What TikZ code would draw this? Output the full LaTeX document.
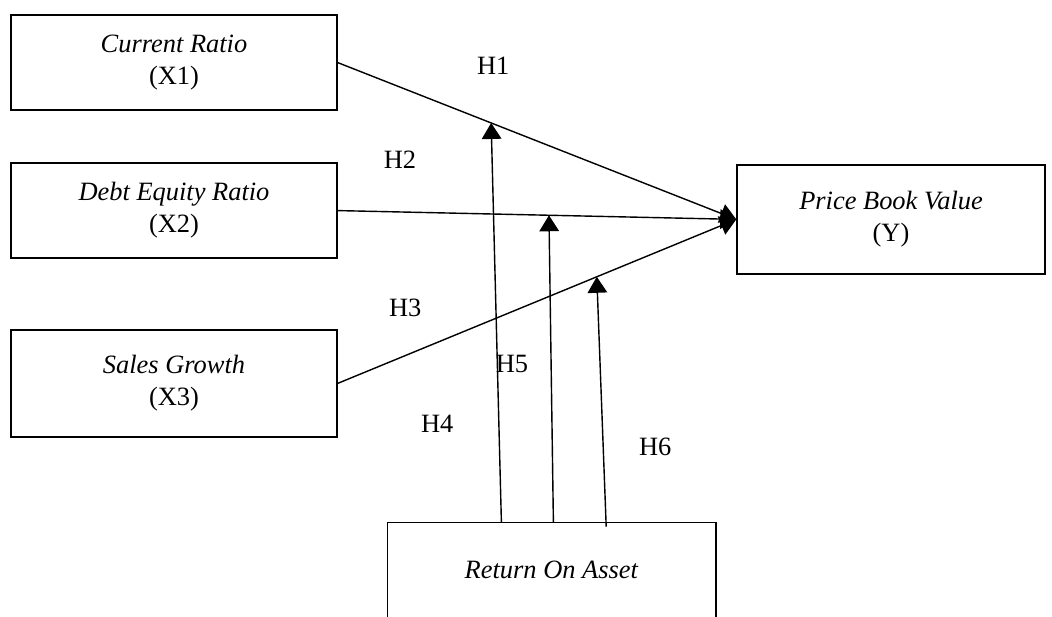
\documentclass[tikz,border=0pt]{standalone}
\usepackage{fontspec}
\setmainfont{Liberation Serif}
\usepackage{tikz}
\usetikzlibrary{arrows.meta,calc}
\tikzset{>={Triangle[length=4mm,width=4.9mm]}}
\tikzset{var/.style={draw,line width=1pt,align=center,inner sep=0,minimum width=8.15cm,
  font=\fontsize{18.8}{22.7}\selectfont}}
\tikzset{hyp/.style={font=\fontsize{18.8}{22.7}\selectfont}}

\begin{document}
\begin{tikzpicture}[line width=1pt]
    \useasboundingbox (0,0) rectangle (26.3,15.425);
    \node[var,minimum height=2.375cm] (cr) at (4.35,13.86) {\textit{Current Ratio}\\(X1)};
    \node[var,minimum height=2.375cm] (der) at (4.35,10.16) {\textit{Debt Equity Ratio}\\(X2)};
    \node[var,minimum height=2.675cm] (sg) at (4.35,5.84) {\textit{Sales Growth}\\(X3)};
    \node[var,minimum width=7.7cm,minimum height=2.725cm] (pbv) at (22.275,9.94) {\textit{Price Book Value}\\(Y)};
    \node[var,draw=none,minimum width=8.175cm,minimum height=2.325cm,anchor=south] (roa) at (13.79,0) {\textit{Return On Asset}};
    \draw (roa.south west) -- (roa.north west) -- (roa.north east) -- (roa.south east);
    % direct effects
    \draw[->] (cr.east) -- (pbv.west) coordinate[pos=0.385] (m1);
    \draw[->] (der.east) -- (pbv.west) coordinate[pos=0.53] (m2);
    \draw[->] (sg.east) -- (pbv.west) coordinate[pos=0.65] (m3);
    % moderation
    \draw[->] ($(roa.north west)+(2.85,0)$) -- (m1);
    \draw[->] ($(roa.north west)+(4.15,0)$) -- (m2);
    \draw[->] ($(roa.north west)+(5.47,-0.1)$) -- (m3);
    \node[hyp] (h1) at (12.33,13.78) {H1};
    \node[hyp] (h2) at (10.0,11.43) {H2};
    \node[hyp] (h3) at (10.13,7.73) {H3};
    \node[hyp] (h4) at (10.93,4.83) {H4};
    \node[hyp] (h5) at (12.8,6.33) {H5};
    \node[hyp] (h6) at (16.38,4.25) {H6};
\end{tikzpicture}
\end{document}
